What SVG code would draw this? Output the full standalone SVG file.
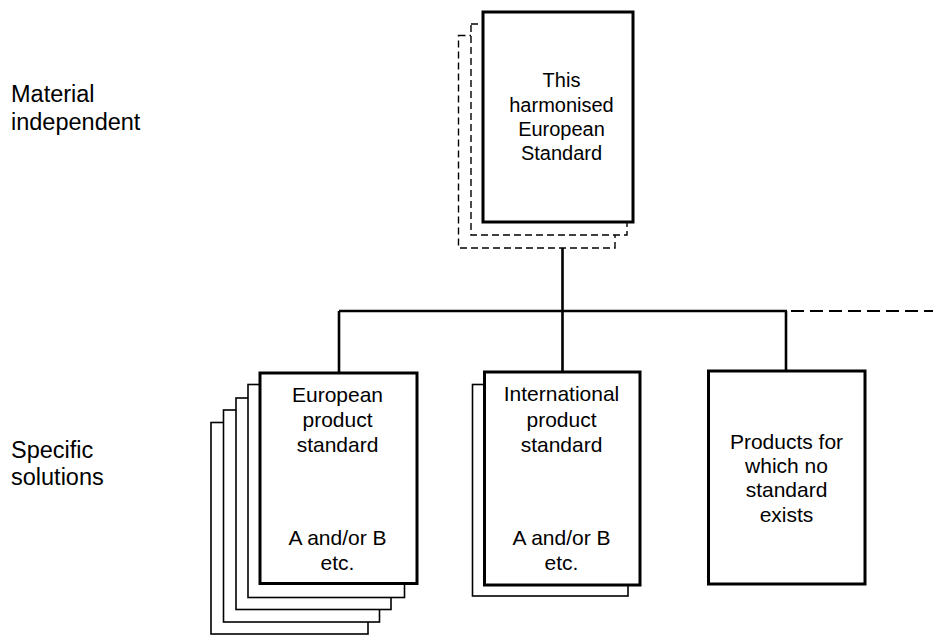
<svg xmlns="http://www.w3.org/2000/svg" width="933" height="635" viewBox="0 0 933 635">
<style>
.main{fill:#fff;stroke:#000;stroke-width:3}
.back{fill:#fff;stroke:#000;stroke-width:1.6}
.dash{fill:#fff;stroke:#000;stroke-width:1.4;stroke-dasharray:7 4}
.con{fill:none;stroke:#000;stroke-width:2.6}
.con-d{fill:none;stroke:#000;stroke-width:2;stroke-dasharray:13 6}
text{font-family:"Liberation Sans",Arial,sans-serif;fill:#000}
.lbl{font-size:23.5px}
.bt{font-size:20px;text-anchor:middle}
.bb{font-size:21px;text-anchor:middle}
</style>
<rect width="933" height="635" fill="#fff"/>
<g id="labels">
<text class="lbl" x="11" y="101.5">Material</text>
<text class="lbl" x="11" y="129.5">independent</text>
<text class="lbl" x="11" y="457.5">Specific</text>
<text class="lbl" x="11" y="485">solutions</text>
</g>
<g id="connectors">
<line class="con" x1="562.5" y1="222" x2="562.5" y2="372"/>
<line class="con" x1="339" y1="311" x2="787" y2="311"/>
<line class="con" x1="339" y1="311" x2="339" y2="373"/>
<line class="con" x1="786" y1="311" x2="786" y2="371"/>
<line class="con-d" x1="791" y1="311" x2="933" y2="311"/>
</g>
<g id="harmonised-standard">
<rect class="dash" x="458.5" y="35.5" width="156.5" height="212.5"/>
<rect class="dash" x="471" y="24" width="156" height="211"/>
<rect class="main" x="483" y="12" width="150" height="210"/>
<text class="bt" x="561.5" y="86.5">This</text>
<text class="bt" x="561.5" y="111.5">harmonised</text>
<text class="bt" x="561.5" y="135.5">European</text>
<text class="bt" x="561.5" y="160">Standard</text>
</g>
<g id="european-product-standard">
<rect class="back" x="211" y="422.5" width="157" height="211.5"/>
<rect class="back" x="223.5" y="410" width="156" height="212"/>
<rect class="back" x="236" y="398" width="155" height="211.5"/>
<rect class="back" x="248" y="384.5" width="156.5" height="213"/>
<rect class="main" x="260" y="373" width="157" height="210.5"/>
<text class="bb" x="337.5" y="401.5">European</text>
<text class="bb" x="337.5" y="427">product</text>
<text class="bb" x="337.5" y="451.5">standard</text>
<text class="bb" x="337.5" y="545">A and/or B</text>
<text class="bb" x="337.5" y="570">etc.</text>
</g>
<g id="international-product-standard">
<rect class="back" x="472.5" y="384.5" width="155.5" height="211.5"/>
<rect class="main" x="484.5" y="372" width="155.5" height="213"/>
<text class="bb" x="561.5" y="401">International</text>
<text class="bb" x="561.5" y="426.5">product</text>
<text class="bb" x="561.5" y="451.5">standard</text>
<text class="bb" x="561.5" y="545">A and/or B</text>
<text class="bb" x="561.5" y="570">etc.</text>
</g>
<g id="no-standard-products">
<rect class="main" x="708.5" y="371" width="156.5" height="213"/>
<text class="bb" x="786.5" y="448.5">Products for</text>
<text class="bb" x="786.5" y="472.5">which no</text>
<text class="bb" x="786.5" y="497">standard</text>
<text class="bb" x="786.5" y="521.5">exists</text>
</g>
</svg>
